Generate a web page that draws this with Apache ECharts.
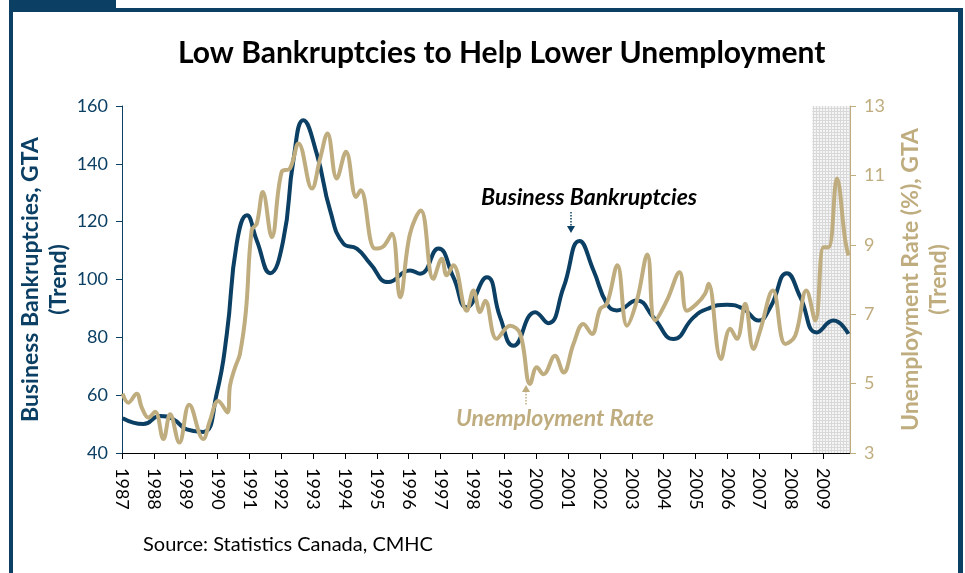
<!DOCTYPE html>
<html><head><meta charset="utf-8">
<script src="https://cdn.jsdelivr.net/npm/echarts@6/dist/echarts.min.js"></script>
<style>html,body{margin:0;padding:0;background:#fff}#c{width:965px;height:573px}</style>
</head><body><div id="c"></div>
<script>
const yearTicks = [1987,1988,1989,1990,1991,1992,1993,1994,1995,1996,1997,1998,1999,2000,2001,2002,2003,2004,2005,2006,2007,2008,2009];
const leftTicks = [40,60,80,100,120,140,160];
const rightTicks = [3,5,7,9,11,13];
const recessionStart = 2008.67, recessionEnd = 2009.85;

const bankYears = [1987.02,1987.67,1988.19,1988.61,1989.03,1989.55,1989.97,1990.29,1990.60,1990.92,1991.23,1991.65,1992.06,1992.38,1992.69,1993.11,1993.53,1993.95,1994.37,1994.79,1995.36,1996.04,1996.36,1996.93,1997.40,1997.82,1998.45,1998.87,1999.29,1999.97,2000.38,2000.86,2001.36,2001.80,2002.22,2002.53,2003.16,2003.68,2004.31,2004.94,2005.36,2005.99,2006.51,2006.98,2007.35,2007.87,2008.29,2008.81,2009.33,2009.80];
const bankValues = [52,50,52.8,51.7,48.2,47.3,60.4,81.2,112.4,122.2,113.5,102.2,113.5,141.3,155.1,143.6,124,112.4,110.7,105.5,99.1,103.1,102,110.7,100.8,90.4,100.8,86.9,77.1,88.7,84.9,97.3,113.3,103.1,91.6,89.3,92.7,86.9,79.4,86.9,89.8,91.3,89.8,85.8,90.4,102.2,93.9,81.7,85.8,81.2];

const unempYears = [1987.02,1987.20,1987.46,1987.62,1987.83,1988.04,1988.30,1988.51,1988.80,1989.11,1989.55,1989.76,1990.02,1990.31,1990.39,1990.55,1990.70,1990.89,1991.07,1991.23,1991.42,1991.70,1992.01,1992.27,1992.54,1992.96,1993.22,1993.45,1993.74,1994.03,1994.35,1994.49,1994.94,1995.20,1995.47,1995.73,1996.04,1996.38,1996.77,1997.04,1997.19,1997.40,1997.82,1998.03,1998.24,1998.40,1998.76,1999.18,1999.50,1999.81,2000.02,2000.23,2000.59,2000.86,2001.17,2001.48,2001.75,2002.01,2002.22,2002.55,2002.85,2003.16,2003.49,2003.73,2004.10,2004.50,2004.73,2005.04,2005.30,2005.41,2005.80,2006.09,2006.30,2006.56,2006.82,2007.03,2007.43,2007.82,2008.13,2008.48,2008.76,2009.02,2009.18,2009.44,2009.70,2009.80];
const unempValues = [4.71,4.45,4.71,4.31,4.02,4.19,3.40,4.12,3.30,4.39,3.40,3.93,4.50,4.17,4.94,5.47,5.85,7.10,9.42,9.61,10.52,9.22,11.1,11.2,11.92,10.62,11.49,12.21,10.91,11.68,10.38,10.57,8.89,8.95,9.32,7.49,9.32,9.99,8.02,8.60,8.12,8.41,7.10,7.68,7.06,7.39,6.29,6.67,6.43,4.99,5.47,5.27,5.80,5.32,6.14,6.72,6.43,7.15,7.30,8.41,6.67,7.39,8.72,6.82,7.39,8.21,7.10,7.30,7.59,7.88,5.71,6.58,6.29,7.30,6.00,6.53,7.68,6.14,6.38,7.68,6.82,8.93,8.93,10.91,9.13,8.69];

const NAVY = '#0b3f63';
const GOLD = '#bfad7f';
const FONT = 'Lato, "DejaVu Sans", sans-serif';

const pc = document.createElement('canvas'); pc.width = 3; pc.height = 3;
const pctx = pc.getContext('2d');
pctx.fillStyle = '#f5f5f5'; pctx.fillRect(0,0,3,3);
pctx.fillStyle = '#d8d8d8'; pctx.fillRect(0,0,3,1); pctx.fillRect(0,0,1,3);

const chart = echarts.init(document.getElementById('c'), null, {renderer:'canvas'});
chart.setOption({
  backgroundColor: '#fff',
  animation: false,
  textStyle: {fontFamily: FONT},
  title: {
    text: 'Low Bankruptcies to Help Lower Unemployment',
    left: 173, top: 33,
    textStyle: {fontFamily: FONT, fontWeight: 'bold', fontSize: 30, color: '#000'}
  },
  grid: {left: 122, right: 115, top: 106, bottom: 120, outerBoundsMode: 'none', containLabel: false},
  xAxis: {
    type: 'value', min: 1987, max: recessionEnd, interval: 1,
    axisLine: {lineStyle: {color: '#000', width: 1}},
    axisTick: {show: true, length: 6, lineStyle: {color: '#000'}, customValues: yearTicks},
    axisLabel: {rotate: -90, fontSize: 18, color: '#000', margin: 15, fontFamily: FONT,
      customValues: yearTicks,
      formatter: v => Number.isInteger(v) ? String(v) : ''},
    splitLine: {show: false}
  },
  yAxis: [{
    type: 'value', min: 40, max: 160, interval: 20, position: 'left',
    name: 'Business Bankruptcies, GTA\n(Trend)', nameLocation: 'middle', nameGap: 49, nameRotate: 90,
    nameMoveOverlap: false,
    nameTextStyle: {fontFamily: FONT, fontWeight: 'bold', fontSize: 23, color: NAVY, lineHeight: 28},
    axisLine: {show: true, lineStyle: {color: NAVY, width: 1}},
    axisTick: {show: true, length: 6, lineStyle: {color: NAVY}},
    axisLabel: {fontSize: 18, color: NAVY, margin: 14, fontFamily: FONT},
    splitLine: {show: false}
  }, {
    type: 'value', min: 3, max: 13, position: 'right',
    name: 'Unemployment Rate (%), GTA\n(Trend)', nameLocation: 'middle', nameGap: 47, nameRotate: 90,
    nameTextStyle: {fontFamily: FONT, fontWeight: 'bold', fontSize: 23, color: GOLD, lineHeight: 28},
    axisLine: {show: true, lineStyle: {color: GOLD, width: 1}},
    axisTick: {show: true, length: 6, lineStyle: {color: GOLD}, customValues: rightTicks},
    axisLabel: {fontSize: 18, color: GOLD, margin: 14, fontFamily: FONT, customValues: rightTicks},
    splitLine: {show: false}
  }],
  series: [{
    name: 'Business Bankruptcies', type: 'line', yAxisIndex: 0,
    data: bankYears.map((x, i) => [x, bankValues[i]]),
    smooth: 0.5, showSymbol: false,
    lineStyle: {color: NAVY, width: 4}, itemStyle: {color: NAVY},
    markArea: {silent: true, itemStyle: {color: {image: pc, repeat: 'repeat'}},
      data: [[{xAxis: recessionStart}, {xAxis: recessionEnd}]]},
    z: 2
  }, {
    name: 'Unemployment Rate', type: 'line', yAxisIndex: 1,
    data: unempYears.map((x, i) => [x, unempValues[i]]),
    smooth: 0.4, showSymbol: false,
    lineStyle: {color: GOLD, width: 4}, itemStyle: {color: GOLD},
    z: 3
  }],
  graphic: [
    {type: 'rect', shape: {x: 9, y: 0, width: 107, height: 12}, style: {fill: NAVY}},
    {type: 'rect', shape: {x: 9, y: 8, width: 954, height: 4}, style: {fill: NAVY}},
    {type: 'rect', shape: {x: 9, y: 0, width: 4, height: 573}, style: {fill: NAVY}},
    {type: 'rect', shape: {x: 958, y: 8, width: 5, height: 565}, style: {fill: NAVY}},
    {type: 'text', left: 481, top: 186, style: {text: 'Business Bankruptcies', fill: '#000',
      font: 'italic bold 23px ' + FONT}},
    {type: 'line', shape: {x1: 571, y1: 212, x2: 571, y2: 227}, style: {stroke: NAVY, lineWidth: 1.5, lineDash: [1.5, 1.5]}},
    {type: 'polygon', shape: {points: [[567, 226], [575, 226], [571, 233]]}, style: {fill: NAVY}},
    {type: 'text', left: 456, top: 407, style: {text: 'Unemployment Rate', fill: GOLD,
      font: 'italic bold 23px ' + FONT}},
    {type: 'line', shape: {x1: 526, y1: 391, x2: 526, y2: 406}, style: {stroke: GOLD, lineWidth: 1.5, lineDash: [1.5, 1.5]}},
    {type: 'polygon', shape: {points: [[522, 392], [530, 392], [526, 385]]}, style: {fill: GOLD}},
    {type: 'text', left: 143, top: 535, style: {text: 'Source: Statistics Canada, CMHC', fill: '#000',
      font: '20px ' + FONT}}
  ]
});
</script>
</body></html>
